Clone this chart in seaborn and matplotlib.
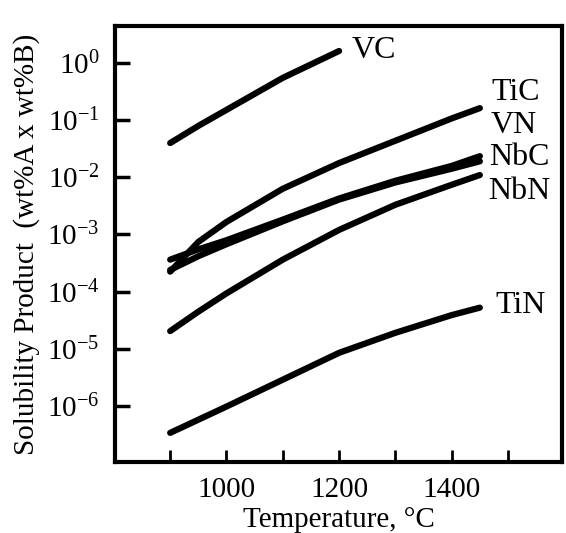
import numpy as np
import pandas as pd
import matplotlib
matplotlib.use("Agg")
import matplotlib.pyplot as plt
import seaborn as sns
from matplotlib.ticker import FixedLocator, NullLocator, NullFormatter, FixedFormatter

# ---- data (log10 of solubility product) ----
temps_full = [900, 950, 1000, 1100, 1200, 1300, 1400, 1450]
temps_vc = [900, 950, 1000, 1100, 1200]

log_vc = [-1.40, -1.10, -0.82, -0.26, 0.21]
log_tic = [-3.65, -3.13, -2.78, -2.20, -1.75, -1.36, -0.97, -0.79]
log_vn = [-3.44, -3.26, -3.10, -2.74, -2.37, -2.06, -1.80, -1.63]
log_nbc = [-3.62, -3.38, -3.17, -2.77, -2.39, -2.09, -1.85, -1.72]
log_nbn = [-4.69, -4.35, -4.03, -3.44, -2.92, -2.48, -2.13, -1.96]
log_tin = [-6.47, -6.24, -6.01, -5.54, -5.07, -4.72, -4.41, -4.28]

phases = ["VC", "TiC", "VN", "NbC", "NbN", "TiN"]
x_ticks = [900, 1000, 1100, 1200, 1300, 1400, 1500]
x_ticklabels = ["", "1000", "", "1200", "", "1400", ""]
y_ticks = [1e-6, 1e-5, 1e-4, 1e-3, 1e-2, 1e-1, 1e0]

series = {
    "VC": (temps_vc, log_vc),
    "TiC": (temps_full, log_tic),
    "VN": (temps_full, log_vn),
    "NbC": (temps_full, log_nbc),
    "NbN": (temps_full, log_nbn),
    "TiN": (temps_full, log_tin),
}
rows = []
for name in phases:
    ts, ls = series[name]
    for t, l in zip(ts, ls):
        rows.append({"phase": name, "T": t, "K": 10 ** l})
df = pd.DataFrame(rows)

# ---- style ----
sns.set_theme(style="ticks")
plt.rcParams["font.family"] = ["Liberation Serif", "DejaVu Serif"]
plt.rcParams["mathtext.fontset"] = "custom"
plt.rcParams["mathtext.rm"] = "Liberation Serif"
plt.rcParams["mathtext.it"] = "Liberation Serif:italic"
plt.rcParams["mathtext.default"] = "regular"
plt.rcParams["axes.unicode_minus"] = False
for k in ["text.color", "axes.labelcolor", "xtick.color", "ytick.color", "axes.edgecolor"]:
    plt.rcParams[k] = "black"

fig = plt.figure(figsize=(5.66, 5.33), dpi=100)
ax = fig.add_axes([0.2032, 0.1332, 0.7898, 0.818])
ax.set_yscale("log")

sns.lineplot(data=df, x="T", y="K", units="phase", estimator=None,
             color="black", linewidth=4.5, ax=ax, legend=False,
             solid_capstyle="round", solid_joinstyle="round", sort=False)

ax.set_xlim(802, 1596)
ax.set_ylim(10 ** -6.98, 10 ** 0.647)

ax.xaxis.set_major_locator(FixedLocator(x_ticks))
ax.xaxis.set_major_formatter(FixedFormatter(x_ticklabels))
ax.yaxis.set_major_locator(FixedLocator(y_ticks))
ax.yaxis.set_minor_locator(NullLocator())
ax.yaxis.set_minor_formatter(NullFormatter())

ax.tick_params(axis="x", direction="in", length=9, width=2.0, labelsize=21, pad=11,
               top=False, colors="black")
ax.tick_params(axis="y", direction="in", length=11, width=2.5, labelsize=21, pad=11,
               right=False, colors="black")

for s in ax.spines.values():
    s.set_linewidth(3.0)
    s.set_color("black")

ax.set_xlabel("Temperature, °C", fontsize=21, labelpad=3)
ax.set_ylabel("Solubility Product  (wt%A x wt%B)", fontsize=21, labelpad=5)

# curve labels
lab_kw = dict(fontsize=23, va="center", ha="left", color="black")
ax.text(1223, 10 ** 0.227, "VC", **lab_kw)
ax.text(1470, 10 ** -0.52, "TiC", **lab_kw)
ax.text(1470, 10 ** -1.10, "VN", **lab_kw)
ax.text(1467, 10 ** -1.66, "NbC", **lab_kw)
ax.text(1465, 10 ** -2.24, "NbN", **lab_kw)
ax.text(1477, 10 ** -4.25, "TiN", **lab_kw)

ax.set_facecolor("white")
fig.patch.set_facecolor("white")
fig.savefig("out.png", dpi=100)
